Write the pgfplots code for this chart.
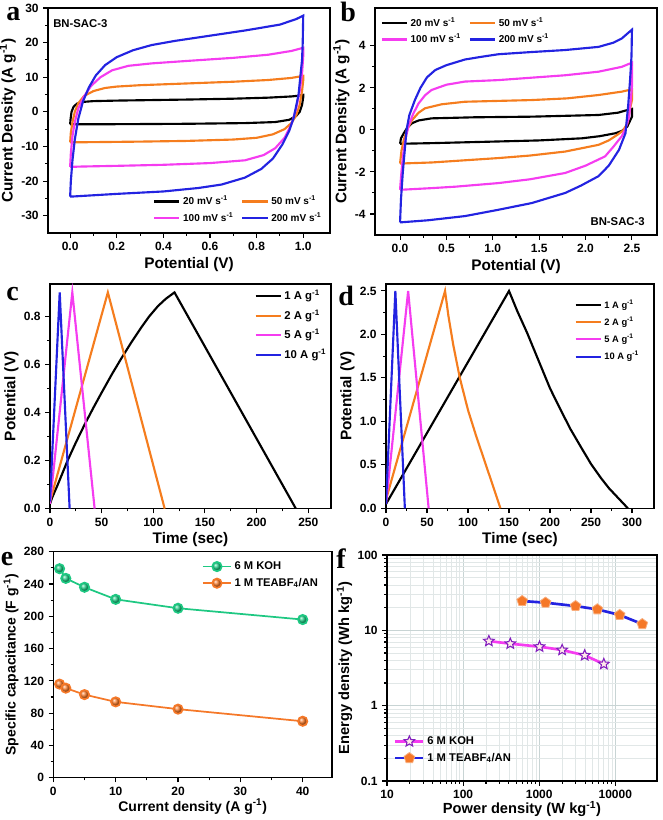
\documentclass[border=0pt]{standalone}
\usepackage{pgfplots}
\pgfplotsset{compat=1.18}
\usepackage{fontspec}
\setmainfont{Liberation Sans}
\newfontfamily\letterfont{Liberation Serif}
\usetikzlibrary{plotmarks}

\definecolor{cvorange}{RGB}{245,125,30}
\definecolor{cvmag}{RGB}{245,60,240}
\definecolor{cvblue}{RGB}{35,35,225}
\definecolor{kohgreen}{RGB}{30,200,130}
\definecolor{teaorange}{RGB}{245,120,40}
\definecolor{starpurple}{RGB}{130,30,190}
\definecolor{gridgray}{RGB}{200,212,212}

\pgfdeclareplotmark{fstar}{%
 \pgfpathmoveto{\pgfpointpolar{90}{\pgfplotmarksize}}%
 \pgfpathlineto{\pgfpointpolar{126}{0.45\pgfplotmarksize}}%
 \pgfpathlineto{\pgfpointpolar{162}{\pgfplotmarksize}}%
 \pgfpathlineto{\pgfpointpolar{198}{0.45\pgfplotmarksize}}%
 \pgfpathlineto{\pgfpointpolar{234}{\pgfplotmarksize}}%
 \pgfpathlineto{\pgfpointpolar{270}{0.45\pgfplotmarksize}}%
 \pgfpathlineto{\pgfpointpolar{306}{\pgfplotmarksize}}%
 \pgfpathlineto{\pgfpointpolar{342}{0.45\pgfplotmarksize}}%
 \pgfpathlineto{\pgfpointpolar{18}{\pgfplotmarksize}}%
 \pgfpathlineto{\pgfpointpolar{54}{0.45\pgfplotmarksize}}%
 \pgfpathclose
 \pgfusepathqfillstroke
}

\pgfplotsset{
 panel/.style={
  scale only axis, anchor=south west,
  axis line style={line width=0.9pt},
  every tick/.style={black, line width=0.8pt},
  major tick length=3.5pt, minor tick length=2pt,
  tick align=outside, tick pos=left,
  tick label style={font=\fontsize{9}{10}\selectfont\bfseries},
  label style={font=\fontsize{11.5}{13}\selectfont\bfseries},
  every axis y label/.append style={inner sep=0.5pt},
  every axis x label/.append style={inner sep=1pt},
  /pgf/number format/assume math mode=true,
  legend cell align=left,
  every axis plot/.append style={line width=1.6pt},
 },
 zfx/.style={x tick label style={/pgf/number format/fixed,/pgf/number format/fixed zerofill,/pgf/number format/precision=1}},
 zfy/.style={y tick label style={/pgf/number format/fixed,/pgf/number format/fixed zerofill,/pgf/number format/precision=1}},
 lineleg/.style={legend image code/.code={\draw[##1] (0cm,0cm) -- (0.66cm,0cm);}},
 markleg/.style={legend image code/.code={\draw[##1, mark repeat=2, mark phase=2] plot coordinates {(0cm,0cm) (0.37cm,0cm) (0.74cm,0cm)};}},
}

\begin{document}
\begin{tikzpicture}
\useasboundingbox (0,0) rectangle (497.25pt,-615pt);

% ---------------- panel a ----------------
\begin{axis}[panel, at={(36pt,-174.75pt)}, width=211.5pt, height=168.75pt,
  xmin=-0.095, xmax=1.115, ymin=-35, ymax=30,
  xtick={0,0.2,...,1.0}, ytick={-30,-20,...,30}, minor x tick num=1, minor y tick num=1, zfx,
  xlabel={Potential (V)}, ylabel={Current Density (A g\textsuperscript{-1})},
  lineleg, legend columns=2,
  legend style={draw=none, fill=none, at={(0.985,0.025)}, anchor=south east, font=\fontsize{7.5}{8}\selectfont\bfseries, /tikz/every even column/.append style={column sep=4pt}, inner sep=1pt, row sep=0pt}]
\addplot[black] coordinates {(0,-3.6)(0.002,-2)(0.006,0)(0.015,1.5)(0.03,2.4)(0.06,2.9)(0.1,3.1)(0.2,3.25)(0.3,3.35)(0.5,3.55)(0.7,3.8)(0.85,4.1)(0.95,4.45)(0.985,4.7)(1.0,4.9)(1.0,4.2)(0.995,2)(0.985,0)(0.97,-1.2)(0.94,-2.3)(0.88,-2.95)(0.75,-3.25)(0.5,-3.45)(0.25,-3.55)(0.05,-3.6)(0,-3.6)};
\addlegendentry{20 mV s\textsuperscript{-1}}
\addplot[cvorange] coordinates {(0,-8.8)(0.003,-6)(0.01,-3)(0.02,0)(0.035,2.5)(0.06,4.6)(0.1,6)(0.15,6.9)(0.2,7.3)(0.3,7.7)(0.5,8.2)(0.7,8.7)(0.85,9.2)(0.95,9.8)(1.0,10.4)(1.0,9)(0.995,6)(0.985,2)(0.97,-1)(0.95,-3.2)(0.92,-5)(0.87,-6.5)(0.8,-7.5)(0.7,-8)(0.5,-8.4)(0.3,-8.6)(0.1,-8.75)(0.01,-8.8)(0,-8.8)};
\addlegendentry{50 mV s\textsuperscript{-1}}
\addplot[cvmag] coordinates {(0,-15.9)(0.003,-12)(0.01,-7)(0.02,-3)(0.035,1)(0.06,4.5)(0.09,7.5)(0.13,10)(0.18,12)(0.25,13.3)(0.35,14)(0.5,14.7)(0.7,15.6)(0.85,16.5)(0.95,17.6)(1.0,18.5)(1.0,16)(0.995,11)(0.985,6)(0.97,1)(0.95,-3.5)(0.92,-7.5)(0.88,-10.5)(0.83,-12.5)(0.75,-14)(0.6,-14.8)(0.4,-15.3)(0.2,-15.6)(0.05,-15.8)(0,-15.9)};
\addlegendentry{100 mV s\textsuperscript{-1}}
\addplot[cvblue] coordinates {(0,-24.5)(0.003,-20)(0.01,-14)(0.02,-8)(0.035,-2)(0.055,3)(0.08,7)(0.11,10.5)(0.15,13.5)(0.2,15.8)(0.27,17.8)(0.35,19.3)(0.45,20.5)(0.6,22)(0.75,23.5)(0.9,25.2)(0.97,26.8)(1.0,27.8)(0.998,20)(0.995,15)(0.98,5)(0.96,-1.5)(0.94,-5.5)(0.91,-9.5)(0.87,-13.5)(0.82,-16.5)(0.75,-19)(0.65,-21)(0.55,-22)(0.4,-23)(0.2,-23.7)(0.05,-24.3)(0,-24.5)};
\addlegendentry{200 mV s\textsuperscript{-1}}
\end{axis}

% ---------------- panel b ----------------
\begin{axis}[panel, at={(281.25pt,-176.25pt)}, width=211.5pt, height=170.25pt,
  xmin=-0.27, xmax=2.77, ymin=-5, ymax=5.8,
  xtick={0,0.5,...,2.5}, ytick={-4,-2,0,2,4}, minor x tick num=1, minor y tick num=1, zfx,
  xlabel={Potential (V)}, ylabel={Current Density (A g\textsuperscript{-1})},
  lineleg, legend columns=2,
  legend style={draw=none, fill=none, at={(0.015,0.975)}, anchor=north west, font=\fontsize{7.5}{8}\selectfont\bfseries, /tikz/every even column/.append style={column sep=4pt}, inner sep=1pt, row sep=0pt}]
\addplot[black] coordinates {(0,-0.66)(0.01,-0.4)(0.04,-0.16)(0.08,0.12)(0.13,0.32)(0.2,0.45)(0.34,0.55)(0.8,0.6)(1.42,0.63)(2.14,0.71)(2.35,0.82)(2.43,0.92)(2.5,1.0)(2.5,0.63)(2.45,0.16)(2.39,-0.05)(2.32,-0.16)(2.15,-0.3)(1.96,-0.4)(1.5,-0.5)(1.06,-0.55)(0.34,-0.63)(0,-0.66)};
\addlegendentry{20 mV s\textsuperscript{-1}}
\addplot[cvorange] coordinates {(0,-1.6)(0.015,-1)(0.04,-0.47)(0.08,0.05)(0.13,0.47)(0.2,0.82)(0.27,1.03)(0.45,1.22)(0.7,1.34)(1.42,1.42)(1.8,1.5)(2.14,1.66)(2.39,1.82)(2.5,1.93)(2.5,1.42)(2.47,0.8)(2.45,0.3)(2.4,-0.05)(2.34,-0.24)(2.25,-0.5)(2.14,-0.71)(1.78,-1.03)(1.4,-1.22)(1.06,-1.34)(0.34,-1.55)(0,-1.6)};
\addlegendentry{50 mV s\textsuperscript{-1}}
\addplot[cvmag] coordinates {(0,-2.85)(0.015,-2)(0.036,-1.1)(0.06,-0.4)(0.09,0.16)(0.14,0.75)(0.2,1.26)(0.27,1.65)(0.34,1.9)(0.5,2.15)(0.7,2.3)(1.06,2.37)(1.78,2.6)(2.14,2.77)(2.39,3.0)(2.5,3.2)(2.5,2.05)(2.47,0.63)(2.43,0.05)(2.39,-0.3)(2.3,-0.8)(2.21,-1.26)(2.0,-1.7)(1.78,-2.05)(1.4,-2.35)(1.06,-2.53)(0.6,-2.7)(0.34,-2.77)(0,-2.85)};
\addlegendentry{100 mV s\textsuperscript{-1}}
\addplot[cvblue] coordinates {(0,-4.4)(0.01,-3.3)(0.03,-2)(0.05,-1)(0.07,0)(0.1,0.7)(0.16,1.42)(0.22,2.0)(0.29,2.5)(0.38,2.85)(0.5,3.08)(0.7,3.35)(0.88,3.48)(1.06,3.6)(1.4,3.7)(1.78,3.8)(2.14,3.95)(2.3,4.15)(2.39,4.35)(2.5,4.77)(2.495,3.5)(2.48,2.4)(2.46,1.2)(2.43,-0.16)(2.36,-0.95)(2.25,-1.7)(2.14,-2.2)(1.95,-2.65)(1.78,-3.0)(1.42,-3.48)(1.06,-3.8)(0.7,-4.1)(0.3,-4.3)(0,-4.4)};
\addlegendentry{200 mV s\textsuperscript{-1}}
\end{axis}

% ---------------- panel c ----------------
\begin{axis}[panel, at={(37.5pt,-381.5pt)}, width=210.75pt, height=168.5pt,
  xmin=0, xmax=272, ymin=0, ymax=0.935,
  xtick={0,50,...,250}, ytick={0,0.2,...,0.8}, minor x tick num=1, minor y tick num=1, zfy,
  xlabel={Time (sec)}, ylabel={Potential (V)},
  lineleg,
  legend style={draw=none, fill=none, at={(0.998,0.99)}, anchor=north east, font=\fontsize{8.5}{9}\selectfont\bfseries, inner sep=1pt, row sep=2.2pt}]
\addplot[black] coordinates {(0,0.02)(2,0.045)(8,0.105)(17,0.2)(25,0.275)(33.5,0.35)(42,0.42)(50,0.483)(60,0.56)(69,0.625)(79,0.694)(88,0.752)(96,0.8)(104.5,0.843)(112,0.873)(120.5,0.9)(238,0)};
\addlegendentry{1 A g\textsuperscript{-1}}
\addplot[cvorange] coordinates {(0,0.03)(56,0.9)(111,0)};
\addlegendentry{2 A g\textsuperscript{-1}}
\addplot[cvmag] coordinates {(0,0.02)(21.6,0.9)(43.2,0)};
\addlegendentry{5 A g\textsuperscript{-1}}
\addplot[cvblue] coordinates {(0,0.03)(9.4,0.9)(19,0)};
\addlegendentry{10 A g\textsuperscript{-1}}
\end{axis}

% ---------------- panel d ----------------
\begin{axis}[panel, at={(289.5pt,-381.25pt)}, width=201pt, height=168.25pt,
  xmin=0, xmax=326.8, ymin=0, ymax=2.58,
  xtick={0,50,...,300}, ytick={0,0.5,...,2.5}, minor x tick num=1, minor y tick num=1, zfy,
  xlabel={Time (sec)}, ylabel={Potential (V)},
  lineleg,
  legend style={draw=none, fill=none, at={(0.96,0.95)}, anchor=north east, font=\fontsize{7}{7.5}\selectfont\bfseries, inner sep=1pt, row sep=1pt}]
\addplot[black] coordinates {(0,0.05)(150,2.5)(160,2.27)(172,2.02)(186,1.7)(200,1.38)(212,1.15)(225,0.91)(238,0.7)(250,0.51)(262,0.35)(272,0.23)(284,0.11)(295,0)};
\addlegendentry{1 A g\textsuperscript{-1}}
\addplot[cvorange] coordinates {(0,0.1)(72,2.5)(76,2.22)(82,1.88)(90,1.5)(100,1.13)(110,0.83)(120,0.55)(130,0.27)(139.5,0)};
\addlegendentry{2 A g\textsuperscript{-1}}
\addplot[cvmag] coordinates {(0,0.05)(27,2.5)(52,0)};
\addlegendentry{5 A g\textsuperscript{-1}}
\addplot[cvblue] coordinates {(0,0.05)(11.4,2.5)(23,0)};
\addlegendentry{10 A g\textsuperscript{-1}}
\end{axis}

% ---------------- panel e ----------------
\begin{axis}[panel, at={(40pt,-583.3pt)}, width=209pt, height=169.5pt,
  xmin=0, xmax=44.7, ymin=0, ymax=280,
  xtick={0,10,...,40}, ytick={0,40,...,280}, minor x tick num=1, minor y tick num=1,
  label style={font=\fontsize{10.5}{12}\selectfont\bfseries},
  xlabel={Current density (A g\textsuperscript{-1})}, ylabel={Specific capacitance (F g\textsuperscript{-1})},
  xlabel shift=-2pt,
  every axis plot/.append style={line width=1.3pt},
  markleg,
  legend style={draw=none, fill=none, at={(0.965,0.975)}, anchor=north east, font=\fontsize{8.4}{9}\selectfont\bfseries, inner sep=1pt, row sep=1pt}]
\addplot[kohgreen, mark=ball, mark size=3.5pt, mark options={ball color=kohgreen}] coordinates {(1,259)(2,247)(5,236)(10,221)(20,210)(40,196)};
\addlegendentry{6 M KOH}
\addplot[teaorange, mark=ball, mark size=3.5pt, mark options={ball color=teaorange}] coordinates {(1,116)(2,111)(5,103)(10,94)(20,85)(40,70)};
\addlegendentry{1 M TEABF\textsubscript{4}/AN}
\end{axis}

% ---------------- panel f ----------------
\begin{axis}[panel, at={(290.25pt,-585.75pt)}, width=202.5pt, height=169.5pt,
  xmode=log, ymode=log,
  xmin=10, xmax=35300, ymin=0.1, ymax=100,
  xtick={10,100,1000,10000}, xticklabels={10,100,1000,10000},
  ytick={0.1,1,10,100}, yticklabels={0.1,1,10,100},
  grid=both, major grid style={gridgray, line width=0.6pt}, minor grid style={gridgray!55, line width=0.35pt},
  label style={font=\fontsize{11}{12}\selectfont\bfseries},
  xlabel={Power density (W kg\textsuperscript{-1})}, ylabel={Energy density (Wh kg\textsuperscript{-1})},
  xlabel shift=-2.5pt,
  every axis plot/.append style={line width=2pt},
  markleg,
  legend style={draw=none, fill=none, at={(0.02,0.06)}, anchor=south west, font=\fontsize{8.4}{9}\selectfont\bfseries, inner sep=1pt, row sep=1pt}]
\addplot[cvmag, mark=fstar, mark size=4.2pt, mark options={fill=pink!35, draw=starpurple, line width=0.8pt}] coordinates {(218,7.2)(417,6.65)(1009,6.07)(2000,5.48)(3960,4.66)(7060,3.57)};
\addlegendentry{6 M KOH}
\addplot[cvblue, mark=pentagon*, mark size=4.2pt, mark options={fill=teaorange, draw=teaorange!60!white, line width=0.6pt}] coordinates {(597,24.5)(1210,23.3)(3000,21)(5800,19)(11400,16)(22600,12.1)};
\addlegendentry{1 M TEABF\textsubscript{4}/AN}
\end{axis}

% ---------------- texts ----------------
\node[anchor=west, inner sep=0pt, font=\fontsize{8.5}{9}\selectfont\bfseries] at (39.75pt,-18pt) {BN-SAC-3};
\node[anchor=east, inner sep=0pt, font=\fontsize{8.5}{9}\selectfont\bfseries] at (483.75pt,-166.5pt) {BN-SAC-3};
\node[anchor=base west, inner sep=0pt, font=\letterfont\bfseries\fontsize{21}{21}\selectfont] at (4.5pt,-15.75pt) {a};
\node[anchor=base west, inner sep=0pt, font=\letterfont\bfseries\fontsize{21}{21}\selectfont] at (255pt,-16.5pt) {b};
\node[anchor=base west, inner sep=0pt, font=\letterfont\bfseries\fontsize{21}{21}\selectfont] at (4.5pt,-225pt) {c};
\node[anchor=base west, inner sep=0pt, font=\letterfont\bfseries\fontsize{21}{21}\selectfont] at (253.5pt,-228.75pt) {d};
\node[anchor=base west, inner sep=0pt, font=\letterfont\bfseries\fontsize{21}{21}\selectfont] at (0.5pt,-423.75pt) {e};
\node[anchor=base west, inner sep=0pt, font=\letterfont\bfseries\fontsize{21}{21}\selectfont] at (252pt,-426pt) {f};
\end{tikzpicture}
\end{document}
